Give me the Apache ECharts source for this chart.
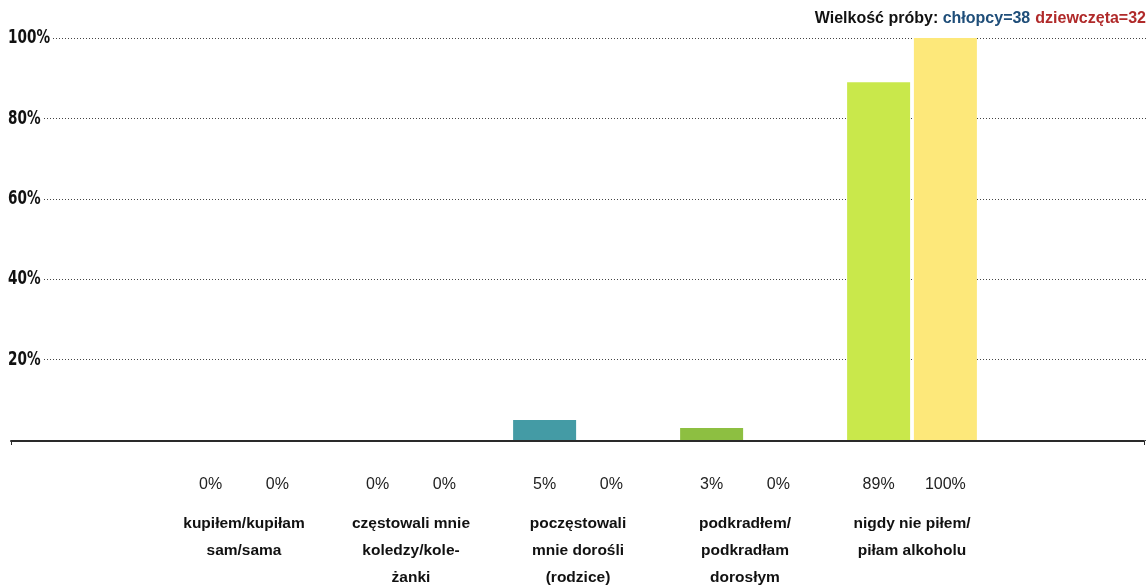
<!DOCTYPE html>
<html>
<head>
<meta charset="utf-8">
<script src="https://cdn.jsdelivr.net/npm/echarts@6/dist/echarts.min.js"></script>
<style>
  html, body { margin: 0; padding: 0; background: #fff; }
  #chart { width: 1148px; height: 585px; }
</style>
</head>
<body>
<div id="chart"></div>
<script>
// dane z wykresu
const categories = [
  'kupiłem/kupiłam\nsam/sama',
  'częstowali mnie\nkoledzy/kole-\nżanki',
  'poczęstowali\nmnie dorośli\n(rodzice)',
  'podkradłem/\npodkradłam\ndorosłym',
  'nigdy nie piłem/\npiłam alkoholu'
];
const boys = [0, 0, 5, 3, 89];
const girls = [0, 0, 0, 0, 100];
const yTicks = [20, 40, 60, 80, 100];
const boysColors = ['#449ba5', '#449ba5', '#449ba5', '#8dbf41', '#c9e84b'];
const girlsColors = ['#fde87a', '#fde87a', '#fde87a', '#fde87a', '#fde87a'];

const myChart = echarts.init(document.getElementById('chart'));

const valueLabel = {
  show: true,
  position: 'bottom',
  distance: 37,
  formatter: (p) => p.value + '%',
  fontFamily: 'Liberation Sans, Arial, sans-serif',
  fontSize: 16,
  color: '#222',
};

const option = {
  animation: false,
  title: {
    right: 2,
    top: 10,
    padding: 0,
    text: '{a|Wielkość próby: }{b|chłopcy=38} {c|dziewczęta=32}',
    textStyle: {
      rich: {
        a: { fontFamily: 'Liberation Sans, Arial', fontWeight: 'bold', fontSize: 16, color: '#111' },
        b: { fontFamily: 'Liberation Sans, Arial', fontWeight: 'bold', fontSize: 16, color: '#1f4e79' },
        c: { fontFamily: 'Liberation Sans, Arial', fontWeight: 'bold', fontSize: 16, color: '#b02a2a' },
      },
    },
  },
  grid: [
    { left: 160.5, right: 152.5, top: 38, bottom: 145, outerBoundsMode: 'none' },
    { left: 11, right: 0, top: 38, bottom: 145, outerBoundsMode: 'none' },
    { left: 11, right: 4, top: 38, bottom: 144, outerBoundsMode: 'none' },
  ],
  xAxis: [
    {
      gridIndex: 0,
      type: 'category',
      data: categories,
      axisLine: { show: false },
      axisTick: { show: false },
      axisLabel: {
        margin: 70,
        interval: 0,
        fontFamily: 'Liberation Sans, Arial, sans-serif',
        fontWeight: 'bold',
        fontSize: 15.5,
        lineHeight: 27,
        color: '#111',
      },
    },
    { gridIndex: 1, type: 'value', min: 0, max: 1, show: false },
    {
      gridIndex: 2,
      type: 'value',
      min: 0,
      max: 1,
      interval: 1,
      axisLine: { show: true, lineStyle: { color: '#2a2a2a', width: 2 } },
      axisTick: { show: true, length: 4, lineStyle: { color: '#2a2a2a', width: 1 } },
      axisLabel: { show: false },
      splitLine: { show: false },
    },
  ],
  yAxis: [
    { gridIndex: 0, type: 'value', min: 0, max: 100, interval: 20, show: false },
    {
      gridIndex: 1,
      type: 'value',
      min: 0,
      max: 100,
      interval: 20,
      axisLine: { show: false },
      axisTick: { show: false },
      axisLabel: { show: false },
      splitLine: {
        show: true,
        lineStyle: { color: '#444', type: [1, 2], width: 1 },
      },
    },
    { gridIndex: 2, type: 'value', min: 0, max: 1, show: false },
  ],
  series: [
    {
      name: 'chłopcy',
      type: 'bar',
      xAxisIndex: 0,
      yAxisIndex: 0,
      data: boys,
      barWidth: 63,
      barGap: '6%',
      itemStyle: { color: (p) => boysColors[p.dataIndex] },
      label: valueLabel,
      z: 3,
    },
    {
      name: 'dziewczęta',
      type: 'bar',
      xAxisIndex: 0,
      yAxisIndex: 0,
      data: girls,
      barWidth: 63,
      barGap: '6%',
      itemStyle: { color: (p) => girlsColors[p.dataIndex] },
      label: valueLabel,
      z: 3,
    },
  ],
};

myChart.setOption(option);

// wąskie etykiety osi Y (brak fontu condensed, więc skalujemy w poziomie)
const yLabels = () => {
  myChart.setOption({
    graphic: yTicks.map((v) => ({
      type: 'text',
      x: 8,
      y: myChart.convertToPixel({ yAxisIndex: 1 }, v),
      scaleX: 0.68,
      z: 10,
      style: {
        text: v + '%',
        font: 'bold 20px "DejaVu Sans", sans-serif',
        fill: '#111',
        verticalAlign: 'middle',
        backgroundColor: '#fff',
        padding: [0, 4, 0, 0],
      },
    })),
  });
};
yLabels();

window.addEventListener('resize', () => {
  myChart.resize();
  yLabels();
});
</script>
</body>
</html>
